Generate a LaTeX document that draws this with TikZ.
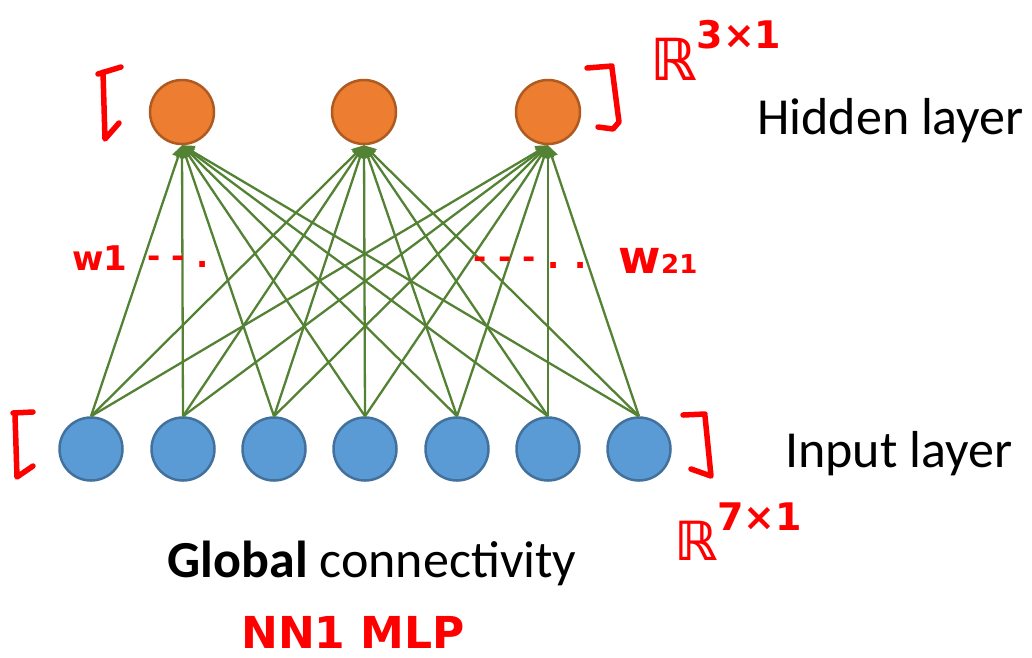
\documentclass[tikz,border=0pt]{standalone}
\usepackage{fontspec}
\setmainfont{Carlito}
\newfontfamily\handfont{DejaVu Sans}
\usetikzlibrary{arrows.meta}
\definecolor{hidfill}{HTML}{ED7D31}
\definecolor{hiddraw}{HTML}{AE5A21}
\definecolor{infill}{HTML}{5B9BD5}
\definecolor{indraw}{HTML}{41719C}
\definecolor{edgegreen}{HTML}{548235}
\definecolor{ink}{HTML}{FF0000}

\begin{document}
\begin{tikzpicture}[x=1pt,y=-1pt,
  hidden/.style={circle,minimum size=64pt,inner sep=0pt,fill=hidfill,draw=hiddraw,line width=2.5pt},
  inputnode/.style={circle,minimum size=63pt,inner sep=0pt,fill=infill,draw=indraw,line width=2.5pt},
  link/.style={draw=edgegreen,line width=2.3pt,-{Triangle[length=12pt,width=12pt]}},
  layerlabel/.style={font=\fontsize{52}{60}\selectfont,inner sep=0pt},
  bracket/.style={draw=ink,line width=5.5pt,line cap=round,line join=round},
  hand/.style={text=ink,inner sep=0pt,font=\handfont\bfseries\fontsize{#1}{#1}\selectfont}]

\useasboundingbox (0,0) rectangle (1032,657);

% hidden layer
\node[hidden] (h1) at (182,112) {};
\node[hidden] (h2) at (364,112) {};
\node[hidden] (h3) at (548,112) {};

% input layer
\node[inputnode] (in1) at (91,449) {};
\node[inputnode] (in2) at (183,449) {};
\node[inputnode] (in3) at (274,449) {};
\node[inputnode] (in4) at (365,449) {};
\node[inputnode] (in5) at (457,449) {};
\node[inputnode] (in6) at (548,449) {};
\node[inputnode] (in7) at (639,449) {};

% full connections
\foreach \i in {1,...,7}
  \foreach \j in {1,2,3}
    \draw[link] (in\i.north) -- (h\j.south);

% layer captions
\node[layerlabel,anchor=base west] (hl) at (757,134) {Hidden layer};
\node[layerlabel,anchor=base west] (il) at (785,467) {Input layer};
\node[layerlabel,anchor=base] (gc) at (372,577) {\textbf{Global} connectivity};

% handwritten brackets
\draw[bracket] (98,74) -- (121,67) (103,72) -- (105,139) -- (119,123);
\draw[bracket] (587,68) -- (612,66) (612,68) -- (619,122) -- (613,129) -- (598,127);
\draw[bracket] (13,413) -- (33,412) (15,415) -- (17,477) -- (33,466);
\draw[bracket] (683,415) -- (705,414) (705,416) -- (711,476) -- (691,469);

% handwritten notes
\node[hand=58,anchor=base west] (r3) at (650,80)
  {ℝ\raisebox{32pt}{\fontsize{38}{38}\selectfont 3×1}};
\node[hand=54,anchor=base west] (r7) at (674,560)
  {ℝ\raisebox{30pt}{\fontsize{38}{38}\selectfont 7×1}};
\node[hand=34] (w1) at (100,258) {w1};
\node[hand=32] (d1) at (178,262) {- - .};
\node[hand=32] (d2) at (530,263) {- - - . .};
\node[hand=46] (w21) at (658,261) {w{\fontsize{26}{26}\selectfont 21}};
\node[hand=44] (nn) at (353,632) {NN1 MLP};
\end{tikzpicture}
\end{document}
